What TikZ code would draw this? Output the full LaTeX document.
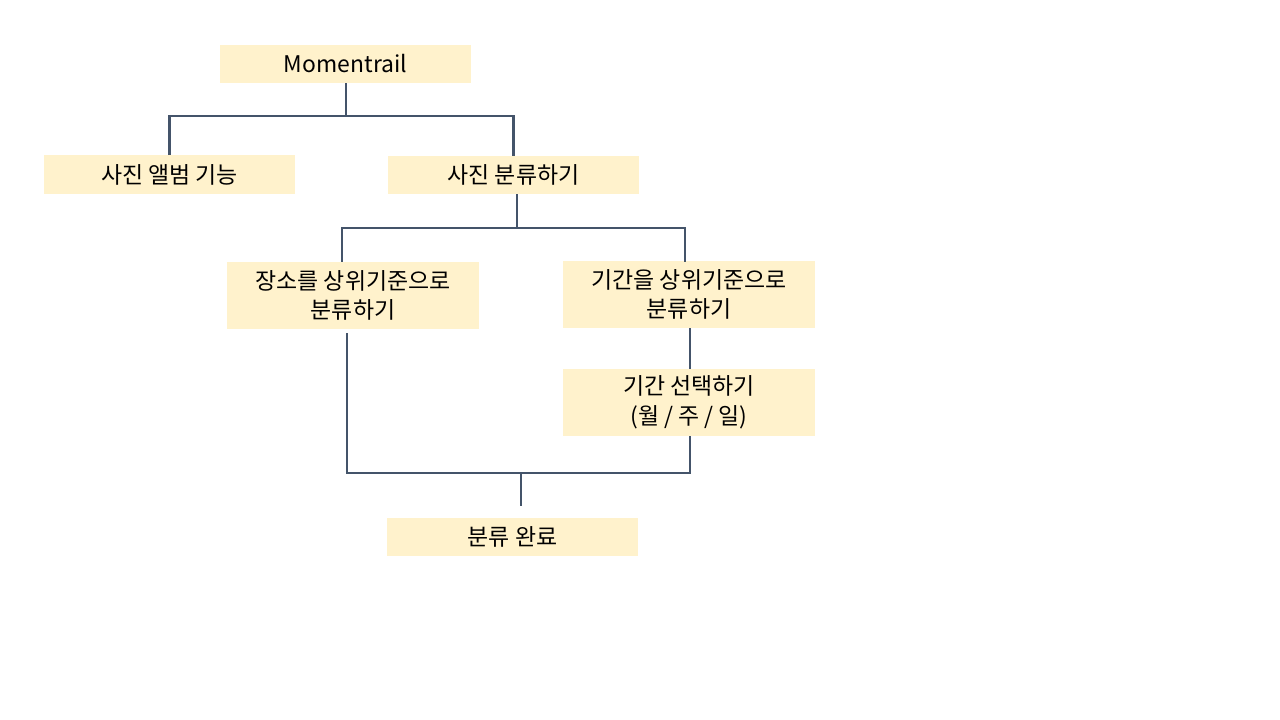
\documentclass[tikz,border=0pt]{standalone}
\usepackage{fontspec}
\setmainfont{Noto Sans CJK KR}
\usepackage{tikz}
\usetikzlibrary{positioning,calc}

\definecolor{boxfill}{HTML}{FFF2CC}
\definecolor{linecol}{HTML}{44546A}

\begin{document}
\begin{tikzpicture}[x=0.025cm, y=-0.025cm,
  box/.style={fill=boxfill, minimum width=6.275cm, minimum height=0.95cm,
    align=center, inner sep=0pt, font=\fontsize{16.3}{21}\selectfont},
  tallbox/.style={box, minimum height=1.675cm},
  link/.style={draw=linecol, line width=1.6pt}]
  \useasboundingbox (0,0) rectangle (1280,720);
  % boxes
  \node[box] (top) at (345.5,64) {Momentrail};
  \node[box] (album) at (169.5,174.5) {사진 앨범 기능};
  \node[box] (sort) at (513.5,175) {사진 분류하기};
  \node[tallbox] (place) at (353,295.5) {장소를 상위기준으로\\분류하기};
  \node[tallbox] (period) at (689,294.5) {기간을 상위기준으로\\분류하기};
  \node[tallbox] (pick) at (689,402.5) {기간 선택하기\\(월 / 주 / 일)};
  \node[box] (done) at (512.5,537) {분류 완료};
  % connectors
  \coordinate (j1) at (346,116);
  \coordinate (j2) at (517,228);
  \coordinate (j3) at (521,473);
  \draw[link] (top.south -| j1) -- (j1);
  \draw[link] (album.north) |- (j1) -| (sort.north);
  \draw[link] (sort.south -| j2) -- (j2);
  \draw[link] (342,262) |- (j2) -| (685,262);
  \draw[link] ($(place.south)+(-6,4)$) |- (j3) -| ($(pick.south)+(1,0)$);
  \draw[link] ($(period.south)+(1,0)$) -- ($(pick.north)+(1,0)$);
  \draw[link] (j3) -- ($(done.north -| j3)+(0,-12)$);
\end{tikzpicture}
\end{document}
